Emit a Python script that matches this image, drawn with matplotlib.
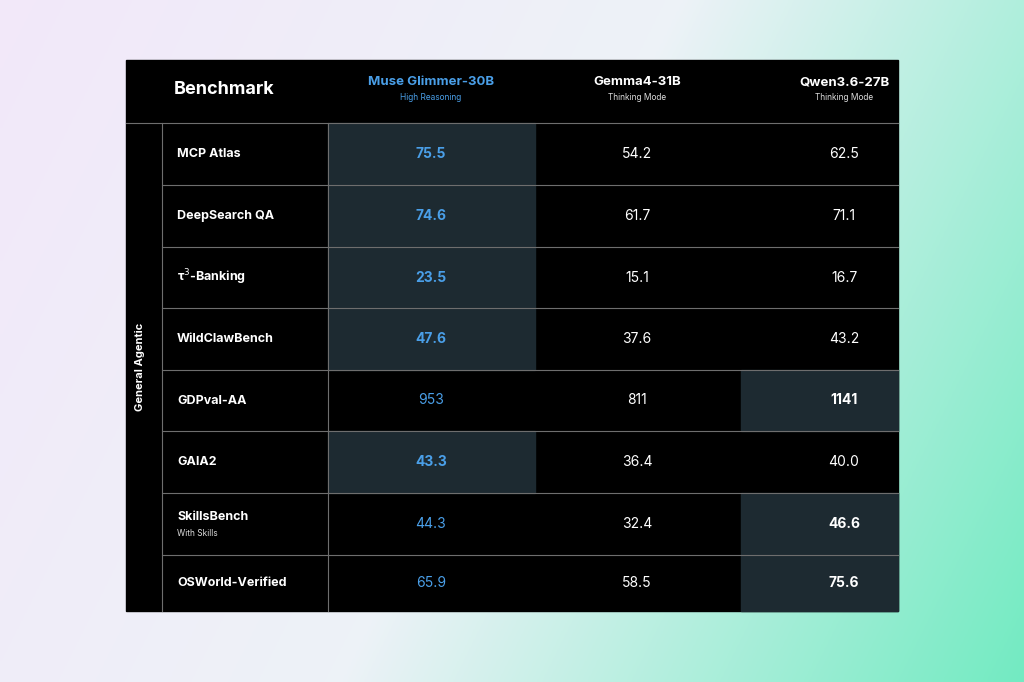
import matplotlib
matplotlib.use("Agg")
import matplotlib.pyplot as plt
import numpy as np
from matplotlib.patches import Rectangle

plt.rcParams['font.family'] = ['Inter', 'DejaVu Sans']

models = ["Muse Glimmer-30B", "Gemma4-31B", "Qwen3.6-27B"]
model_subs = ["High Reasoning", "Thinking Mode", "Thinking Mode"]
benchmarks = ["MCP Atlas", "DeepSearch QA", "τ$^3$-Banking", "WildClawBench",
              "GDPval-AA", "GAIA2", "SkillsBench", "OSWorld-Verified"]
bench_subs = ["", "", "", "", "", "", "With Skills", ""]
muse = [75.5, 74.6, 23.5, 47.6, 953, 43.3, 44.3, 65.9]
gemma = [54.2, 61.7, 15.1, 37.6, 811, 36.4, 32.4, 58.5]
qwen = [62.5, 71.1, 16.7, 43.2, 1141, 40.0, 46.6, 75.6]
group = "General Agentic"

fig = plt.figure(figsize=(10.24, 6.82), dpi=100)
bg = fig.add_axes([0, 0, 1, 1])
xx, yy = np.meshgrid(np.linspace(0, 1, 256), np.linspace(0, 1, 256))
t = np.clip(0.75 * xx + 0.25 * yy, 0, 1)[..., None]
c1 = np.array([0.95, 0.91, 0.98]); c2 = np.array([0.93, 0.95, 0.97]); c3 = np.array([0.45, 0.92, 0.76])
img = np.where(t < 0.5, c1 + (c2 - c1) * (t / 0.5), c2 + (c3 - c2) * ((t - 0.5) / 0.5))
bg.imshow(img, extent=[0, 1024, 682, 0], aspect='auto')
bg.set_xlim(0, 1024); bg.set_ylim(682, 0); bg.axis('off')

ax = bg
L, R, T, B = 126, 898, 60, 611
ax.add_patch(Rectangle((L, T), R - L, B - T, color='black', zorder=2))
row_y = [123, 185, 247, 308, 370, 431, 493, 555, 611]
cols = [328, 535, 741, 898]
centers = [431, 637, 844]
hl = '#1d2a31'; blue = '#4a9fe8'; grid = '#6e6e6e'

data = [muse, gemma, qwen]
for i in range(len(benchmarks)):
    vals = [d[i] for d in data]
    best = int(np.argmax(vals))
    y0, y1 = row_y[i], row_y[i + 1]
    ax.add_patch(Rectangle((cols[best], y0), cols[best + 1] - cols[best], y1 - y0, color=hl, zorder=3))
    ym = (y0 + y1) / 2
    if bench_subs[i]:
        ax.text(177, ym - 7, benchmarks[i], color='white', fontsize=9, fontweight='bold', va='center', zorder=5)
        ax.text(177, ym + 10, bench_subs[i], color='#dddddd', fontsize=6, va='center', zorder=5)
    else:
        ax.text(177, ym, benchmarks[i], color='white', fontsize=9, fontweight='bold', va='center', zorder=5)
    for j, v in enumerate(vals):
        s = f"{v:.0f}" if v >= 100 else f"{v:.1f}"
        ax.text(centers[j], ym, s, color=blue if j == 0 else 'white', fontsize=10,
                fontweight='bold' if j == best else 'normal', ha='center', va='center', zorder=5)

for y in row_y[1:-1]:
    ax.plot([162, R], [y, y], color=grid, lw=0.8, zorder=4)
ax.plot([L, R], [123, 123], color=grid, lw=0.8, zorder=4)
ax.plot([162, 162], [123, B], color=grid, lw=0.8, zorder=4)
ax.plot([328, 328], [123, B], color=grid, lw=0.8, zorder=4)

ax.text(174, 89, "Benchmark", color='white', fontsize=13, fontweight='bold', va='center', zorder=5)
for j, (m, s) in enumerate(zip(models, model_subs)):
    c = blue if j == 0 else 'white'
    ax.text(centers[j], 82, m, color=c, fontsize=9.5, fontweight='bold', ha='center', va='center', zorder=5)
    ax.text(centers[j], 98, s, color=c if j == 0 else '#dddddd', fontsize=6, ha='center', va='center', zorder=5)
ax.text(140, (123 + B) / 2, group, color='white', fontsize=8, fontweight='bold', rotation=90,
        ha='center', va='center', zorder=5)

fig.savefig("out.png", dpi=100)
